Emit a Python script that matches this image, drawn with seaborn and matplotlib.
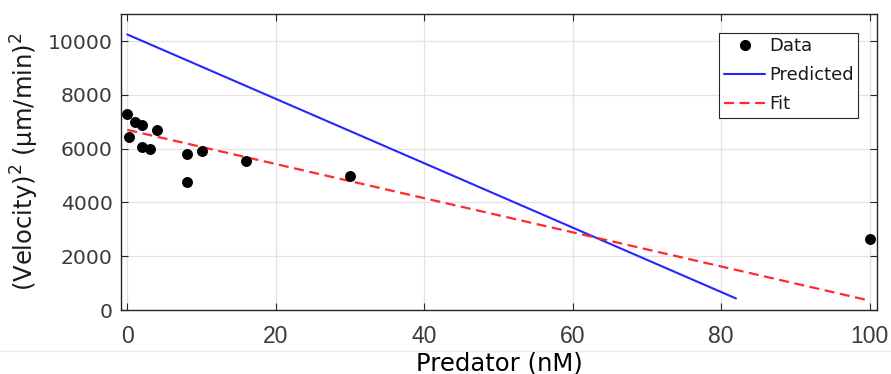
import matplotlib
matplotlib.use("Agg")
import matplotlib.pyplot as plt
from matplotlib.lines import Line2D
import numpy as np
import pandas as pd
import seaborn as sns

# Measured squared velocities vs predator concentration
predator_nM = [0, 0.25, 1, 2, 2, 3, 4, 8, 8, 10, 16, 30, 100]
velocity_sq = [7300, 6450, 7000, 6900, 6050, 6000, 6700, 5800, 4780, 5900, 5530, 5000, 2630]

# Model lines (end points)
predicted_x = [0, 82]
predicted_y = [10250, 430]
fit_x = [0, 100]
fit_y = [6700, 350]

sns.set_theme(style="white")
plt.rcParams["font.family"] = ["DejaVu Sans"]

edge = "#262626"
blue = "#2626ff"
red = "#ff2a2a"
dash = (0, (4.5, 2.5))

fig = plt.figure(figsize=(8.91, 3.74), dpi=100)
ax = fig.add_axes([0.1358, 0.1711, 0.8485, 0.7907])

data = pd.DataFrame({"x": predicted_x, "y": predicted_y})
sns.lineplot(data=data, x="x", y="y", ax=ax, color=blue, lw=1.5, zorder=3)
data = pd.DataFrame({"x": fit_x, "y": fit_y})
sns.lineplot(data=data, x="x", y="y", ax=ax, color=red, lw=1.6,
             linestyle=dash, zorder=3)
data = pd.DataFrame({"x": predator_nM, "y": velocity_sq})
sns.scatterplot(data=data, x="x", y="y", ax=ax, color="black", s=62,
                edgecolor="black", linewidth=0, zorder=4)

ax.set_xlim(-0.85, 101)
ax.set_ylim(0, 11000)
ax.set_xticks(np.arange(0, 101, 20))
ax.set_yticks(np.arange(0, 10001, 2000))
ax.grid(True, color="#e3e3e3", lw=0.9)
ax.set_axisbelow(True)

for s in ax.spines.values():
    s.set_color(edge)
    s.set_linewidth(1.0)
    s.set_visible(True)

ax.tick_params(direction="in", length=5, width=0.8, color=edge,
               top=True, right=True, bottom=True, left=True,
               labelcolor="#3a3a3a")
ax.tick_params(axis="y", labelsize=14.7, pad=6)
ax.tick_params(axis="x", labelsize=16.5, pad=11)
for lab in ax.get_xticklabels():
    lab.set_family("Liberation Sans")

ax.set_xlabel("Predator (nM)", fontsize=17.5, color="black")
ax.xaxis.set_label_coords(0.5, -0.14)
ax.set_ylabel("(Velocity)$^2$ (µm/min)$^2$", fontsize=17.5, color="#1a1a1a",
              labelpad=5)

handles = [
    Line2D([], [], marker="o", color="black", linestyle="none", markersize=7),
    Line2D([], [], color=blue, lw=1.5),
    Line2D([], [], color=red, lw=1.6, linestyle=dash),
]
leg = ax.legend(handles, ["Data", "Predicted", "Fit"], loc="upper right",
                bbox_to_anchor=(0.975, 0.937), fontsize=13, frameon=True,
                fancybox=False, edgecolor=edge, framealpha=1,
                handlelength=2.3, handletextpad=0.2, labelspacing=0.6,
                borderpad=0.25, borderaxespad=0)
leg.get_frame().set_linewidth(0.8)
for t in leg.get_texts():
    t.set_color("#1a1a1a")

# thin separator under the tick labels
fig.add_artist(Line2D([0, 1], [1 - 351 / 374] * 2, transform=fig.transFigure,
                      color="#ececec", lw=0.8, zorder=-1))

fig.savefig("out.png", dpi=100)
